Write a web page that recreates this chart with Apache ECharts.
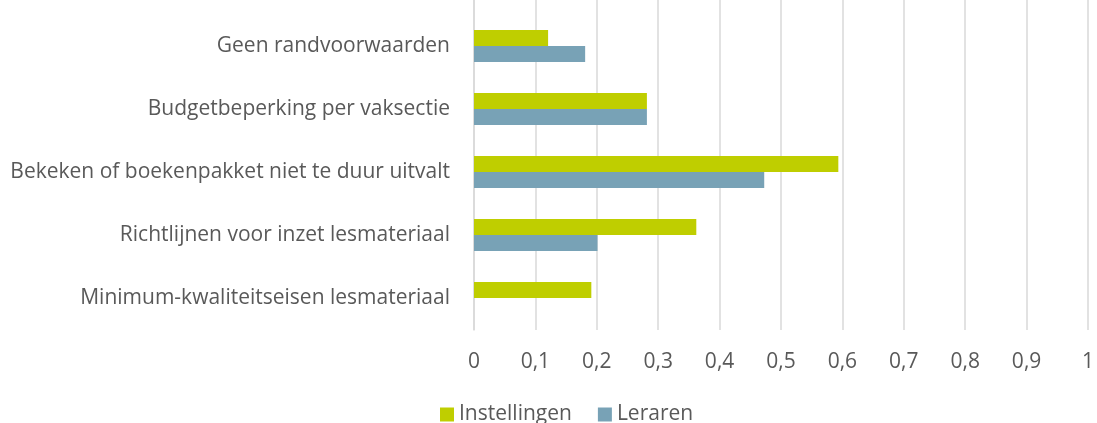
<!DOCTYPE html>
<html>
<head>
<meta charset="utf-8">
<script src="https://cdn.jsdelivr.net/npm/echarts@6/dist/echarts.min.js"></script>
<style>
    html, body { margin: 0; padding: 0; background: #fff; }
    #chart { width: 1097px; height: 423px; }
</style>
</head>
<body>
<div id="chart"></div>
<script>
    // data
    var categories = [
        'Geen randvoorwaarden',
        'Budgetbeperking per vaksectie',
        'Bekeken of boekenpakket niet te duur uitvalt',
        'Richtlijnen voor inzet lesmateriaal',
        'Minimum-kwaliteitseisen lesmateriaal'
    ];
    var instellingen = [0.12, 0.28, 0.59, 0.36, 0.19];
    var leraren = [0.18, 0.28, 0.47, 0.20, 0];
    var seriesNames = ['Instellingen', 'Leraren'];

    var textColor = '#595959';
    var gridColor = '#d9d9d9';
    var fontFamily = '"Open Sans", sans-serif';
    var fontSize = 21;

    function comma(v) {
        return String(v).replace('.', ',');
    }

    var myChart = echarts.init(document.getElementById('chart'));
    myChart.setOption({
        animation: false,
        textStyle: { fontFamily: fontFamily },
        legend: {
            data: seriesNames,
            left: 435,
            top: 399,
            padding: 5,
            itemWidth: 14,
            itemHeight: 14,
            itemGap: 26,
            icon: 'rect',
            textStyle: { color: textColor, fontSize: fontSize, fontFamily: fontFamily }
        },
        grid: [
            // bars
            { left: 474, right: 5.5, top: 14.5, height: 315 },
            // background grid lines, reach the top edge
            { left: 474, right: 5.5, top: 0, height: 330 }
        ],
        xAxis: [
            {
                gridIndex: 0,
                type: 'value',
                min: 0,
                max: 1,
                interval: 0.1,
                axisLine: { show: false },
                axisTick: { show: false },
                splitLine: { show: false },
                axisLabel: { show: false }
            },
            {
                gridIndex: 1,
                type: 'value',
                min: 0,
                max: 1,
                interval: 0.1,
                axisLine: { show: false },
                axisTick: { show: false },
                splitLine: { show: true, lineStyle: { color: gridColor, width: 1.5 } },
                axisLabel: {
                    color: textColor,
                    fontSize: fontSize,
                    fontFamily: fontFamily,
                    margin: 22,
                    formatter: comma
                }
            }
        ],
        yAxis: [
            {
                gridIndex: 0,
                type: 'category',
                data: categories,
                inverse: true,
                axisLine: { show: false },
                axisTick: { show: false },
                axisLabel: {
                    color: textColor,
                    fontSize: fontSize,
                    fontFamily: fontFamily,
                    margin: 24
                }
            },
            {
                gridIndex: 1,
                type: 'category',
                data: categories,
                axisLine: { show: true, lineStyle: { color: gridColor, width: 1.5 } },
                axisTick: { show: false },
                axisLabel: { show: false }
            }
        ],
        series: [
            {
                name: seriesNames[0],
                type: 'bar',
                xAxisIndex: 0,
                yAxisIndex: 0,
                data: instellingen,
                barWidth: 16,
                barGap: '0%',
                itemStyle: { color: '#bfce00' }
            },
            {
                name: seriesNames[1],
                type: 'bar',
                xAxisIndex: 0,
                yAxisIndex: 0,
                data: leraren,
                barWidth: 16,
                barGap: '0%',
                itemStyle: { color: '#78a2b6' }
            }
        ]
    });
</script>
</body>
</html>
